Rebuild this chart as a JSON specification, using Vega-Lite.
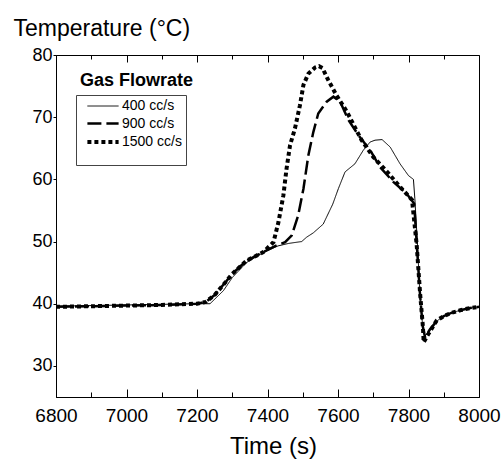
{
  "$schema": "https://vega.github.io/schema/vega-lite/v6.json",
  "autosize": "none",
  "width": 423,
  "height": 342,
  "padding": {"left": 56, "top": 55, "right": 23, "bottom": 62},
  "background": "white",
  "config": {
    "view": {"stroke": "black", "strokeWidth": 1},
    "font": "Liberation Sans"
  },
  "title": {"text": "Gas Flowrate", "anchor": "start", "frame": "group", "fontSize": 18, "fontWeight": "bold", "font": "Liberation Sans", "color": "black", "dx": 24, "dy": 73, "offset": 0},
  "data": {"values": [
    {"t": 6800, "temp": 39.6, "flow": "400 cc/s"},
    {"t": 6900, "temp": 39.7, "flow": "400 cc/s"},
    {"t": 7000, "temp": 39.8, "flow": "400 cc/s"},
    {"t": 7100, "temp": 39.9, "flow": "400 cc/s"},
    {"t": 7200, "temp": 40.0, "flow": "400 cc/s"},
    {"t": 7237, "temp": 40.0, "flow": "400 cc/s"},
    {"t": 7275, "temp": 42.1, "flow": "400 cc/s"},
    {"t": 7300, "temp": 44.2, "flow": "400 cc/s"},
    {"t": 7340, "temp": 46.6, "flow": "400 cc/s"},
    {"t": 7390, "temp": 48.3, "flow": "400 cc/s"},
    {"t": 7430, "temp": 49.3, "flow": "400 cc/s"},
    {"t": 7460, "temp": 49.7, "flow": "400 cc/s"},
    {"t": 7497, "temp": 50.0, "flow": "400 cc/s"},
    {"t": 7511, "temp": 50.7, "flow": "400 cc/s"},
    {"t": 7530, "temp": 51.4, "flow": "400 cc/s"},
    {"t": 7558, "temp": 52.8, "flow": "400 cc/s"},
    {"t": 7585, "temp": 56.0, "flow": "400 cc/s"},
    {"t": 7601, "temp": 58.5, "flow": "400 cc/s"},
    {"t": 7620, "temp": 61.2, "flow": "400 cc/s"},
    {"t": 7648, "temp": 62.5, "flow": "400 cc/s"},
    {"t": 7672, "temp": 64.7, "flow": "400 cc/s"},
    {"t": 7691, "temp": 66.0, "flow": "400 cc/s"},
    {"t": 7705, "temp": 66.3, "flow": "400 cc/s"},
    {"t": 7725, "temp": 66.4, "flow": "400 cc/s"},
    {"t": 7748, "temp": 65.2, "flow": "400 cc/s"},
    {"t": 7776, "temp": 62.5, "flow": "400 cc/s"},
    {"t": 7800, "temp": 60.6, "flow": "400 cc/s"},
    {"t": 7814, "temp": 60.0, "flow": "400 cc/s"},
    {"t": 7818, "temp": 56.9, "flow": "400 cc/s"},
    {"t": 7825, "temp": 50.0, "flow": "400 cc/s"},
    {"t": 7832, "temp": 42.0, "flow": "400 cc/s"},
    {"t": 7840, "temp": 36.5, "flow": "400 cc/s"},
    {"t": 7847, "temp": 34.8, "flow": "400 cc/s"},
    {"t": 7860, "temp": 35.8, "flow": "400 cc/s"},
    {"t": 7880, "temp": 37.2, "flow": "400 cc/s"},
    {"t": 7900, "temp": 38.0, "flow": "400 cc/s"},
    {"t": 7920, "temp": 38.5, "flow": "400 cc/s"},
    {"t": 7950, "temp": 39.0, "flow": "400 cc/s"},
    {"t": 7975, "temp": 39.3, "flow": "400 cc/s"},
    {"t": 8000, "temp": 39.5, "flow": "400 cc/s"},

    {"t": 6800, "temp": 39.5, "flow": "900 cc/s"},
    {"t": 6900, "temp": 39.6, "flow": "900 cc/s"},
    {"t": 7000, "temp": 39.7, "flow": "900 cc/s"},
    {"t": 7100, "temp": 39.8, "flow": "900 cc/s"},
    {"t": 7200, "temp": 40.0, "flow": "900 cc/s"},
    {"t": 7225, "temp": 40.3, "flow": "900 cc/s"},
    {"t": 7250, "temp": 41.4, "flow": "900 cc/s"},
    {"t": 7280, "temp": 43.4, "flow": "900 cc/s"},
    {"t": 7300, "temp": 44.8, "flow": "900 cc/s"},
    {"t": 7340, "temp": 46.9, "flow": "900 cc/s"},
    {"t": 7388, "temp": 48.3, "flow": "900 cc/s"},
    {"t": 7426, "temp": 49.4, "flow": "900 cc/s"},
    {"t": 7450, "temp": 49.9, "flow": "900 cc/s"},
    {"t": 7469, "temp": 51.0, "flow": "900 cc/s"},
    {"t": 7487, "temp": 54.2, "flow": "900 cc/s"},
    {"t": 7502, "temp": 58.5, "flow": "900 cc/s"},
    {"t": 7516, "temp": 63.9, "flow": "900 cc/s"},
    {"t": 7530, "temp": 67.6, "flow": "900 cc/s"},
    {"t": 7544, "temp": 70.6, "flow": "900 cc/s"},
    {"t": 7568, "temp": 72.5, "flow": "900 cc/s"},
    {"t": 7587, "temp": 73.3, "flow": "900 cc/s"},
    {"t": 7606, "temp": 72.5, "flow": "900 cc/s"},
    {"t": 7629, "temp": 69.6, "flow": "900 cc/s"},
    {"t": 7658, "temp": 67.1, "flow": "900 cc/s"},
    {"t": 7691, "temp": 64.7, "flow": "900 cc/s"},
    {"t": 7719, "temp": 62.0, "flow": "900 cc/s"},
    {"t": 7757, "temp": 59.6, "flow": "900 cc/s"},
    {"t": 7795, "temp": 57.7, "flow": "900 cc/s"},
    {"t": 7816, "temp": 56.1, "flow": "900 cc/s"},
    {"t": 7823, "temp": 50.0, "flow": "900 cc/s"},
    {"t": 7832, "temp": 42.0, "flow": "900 cc/s"},
    {"t": 7840, "temp": 36.5, "flow": "900 cc/s"},
    {"t": 7847, "temp": 34.6, "flow": "900 cc/s"},
    {"t": 7860, "temp": 35.8, "flow": "900 cc/s"},
    {"t": 7880, "temp": 37.2, "flow": "900 cc/s"},
    {"t": 7900, "temp": 38.0, "flow": "900 cc/s"},
    {"t": 7920, "temp": 38.5, "flow": "900 cc/s"},
    {"t": 7950, "temp": 39.0, "flow": "900 cc/s"},
    {"t": 7975, "temp": 39.3, "flow": "900 cc/s"},
    {"t": 8000, "temp": 39.5, "flow": "900 cc/s"},

    {"t": 6800, "temp": 39.5, "flow": "1500 cc/s"},
    {"t": 6900, "temp": 39.6, "flow": "1500 cc/s"},
    {"t": 7000, "temp": 39.7, "flow": "1500 cc/s"},
    {"t": 7100, "temp": 39.8, "flow": "1500 cc/s"},
    {"t": 7200, "temp": 40.0, "flow": "1500 cc/s"},
    {"t": 7225, "temp": 40.3, "flow": "1500 cc/s"},
    {"t": 7250, "temp": 41.4, "flow": "1500 cc/s"},
    {"t": 7280, "temp": 43.4, "flow": "1500 cc/s"},
    {"t": 7300, "temp": 44.8, "flow": "1500 cc/s"},
    {"t": 7340, "temp": 46.9, "flow": "1500 cc/s"},
    {"t": 7388, "temp": 48.3, "flow": "1500 cc/s"},
    {"t": 7417, "temp": 49.9, "flow": "1500 cc/s"},
    {"t": 7431, "temp": 53.1, "flow": "1500 cc/s"},
    {"t": 7445, "temp": 57.4, "flow": "1500 cc/s"},
    {"t": 7454, "temp": 61.7, "flow": "1500 cc/s"},
    {"t": 7464, "temp": 65.5, "flow": "1500 cc/s"},
    {"t": 7478, "temp": 68.2, "flow": "1500 cc/s"},
    {"t": 7492, "temp": 71.9, "flow": "1500 cc/s"},
    {"t": 7502, "temp": 75.2, "flow": "1500 cc/s"},
    {"t": 7516, "temp": 77.0, "flow": "1500 cc/s"},
    {"t": 7535, "temp": 78.0, "flow": "1500 cc/s"},
    {"t": 7546, "temp": 78.2, "flow": "1500 cc/s"},
    {"t": 7556, "temp": 77.9, "flow": "1500 cc/s"},
    {"t": 7572, "temp": 76.0, "flow": "1500 cc/s"},
    {"t": 7596, "temp": 73.5, "flow": "1500 cc/s"},
    {"t": 7625, "temp": 70.9, "flow": "1500 cc/s"},
    {"t": 7667, "temp": 66.3, "flow": "1500 cc/s"},
    {"t": 7700, "temp": 63.6, "flow": "1500 cc/s"},
    {"t": 7738, "temp": 61.3, "flow": "1500 cc/s"},
    {"t": 7776, "temp": 58.8, "flow": "1500 cc/s"},
    {"t": 7810, "temp": 56.7, "flow": "1500 cc/s"},
    {"t": 7823, "temp": 49.6, "flow": "1500 cc/s"},
    {"t": 7833, "temp": 41.6, "flow": "1500 cc/s"},
    {"t": 7841, "temp": 36.2, "flow": "1500 cc/s"},
    {"t": 7843, "temp": 33.8, "flow": "1500 cc/s"},
    {"t": 7856, "temp": 35.1, "flow": "1500 cc/s"},
    {"t": 7880, "temp": 37.3, "flow": "1500 cc/s"},
    {"t": 7900, "temp": 38.0, "flow": "1500 cc/s"},
    {"t": 7920, "temp": 38.5, "flow": "1500 cc/s"},
    {"t": 7950, "temp": 39.0, "flow": "1500 cc/s"},
    {"t": 7975, "temp": 39.3, "flow": "1500 cc/s"},
    {"t": 8000, "temp": 39.5, "flow": "1500 cc/s"}
  ]},
  "layer": [
    {
      "mark": {"type": "line", "color": "black", "strokeCap": "butt", "strokeJoin": "miter"},
      "encoding": {
        "x": {"field": "t", "type": "quantitative",
          "scale": {"domain": [6800, 8000], "nice": false, "zero": false},
          "axis": {"orient": "bottom", "title": "Time (s)", "titleFontSize": 24, "titleFont": "Liberation Sans", "titleFontWeight": "normal", "titleColor": "black", "titlePadding": 6, "titleX": 217,
            "values": [6800, 6900, 7000, 7100, 7200, 7300, 7400, 7500, 7600, 7700, 7800, 7900, 8000],
            "format": "d",
            "labelExpr": "datum.value % 200 === 0 ? datum.label : ''",
            "labelFont": "Liberation Sans", "labelFontSize": 19, "labelColor": "black", "labelPadding": 17, "labelFlush": false, "labelOverlap": false,
            "grid": false, "domainColor": "black", "tickColor": "black", "tickWidth": 1,
            "tickSize": {"condition": {"test": "datum.value % 200 === 0", "value": -8}, "value": -5}}},
        "y": {"field": "temp", "type": "quantitative",
          "scale": {"domain": [25, 80], "nice": false, "zero": false},
          "axis": {"orient": "left", "title": "Temperature (°C)", "titleAngle": 0, "titleAlign": "left", "titleBaseline": "alphabetic",
            "titleX": -43, "titleY": -20, "titleFontSize": 23, "titleFont": "Liberation Sans", "titleFontWeight": "normal", "titleColor": "black",
            "values": [30, 35, 40, 45, 50, 55, 60, 65, 70, 75, 80],
            "labelExpr": "datum.value % 10 === 0 ? datum.label : ''",
            "labelFont": "Liberation Sans", "labelFontSize": 18, "labelColor": "black", "labelPadding": 1, "labelOverlap": false,
            "grid": false, "domainColor": "black", "tickColor": "black", "tickWidth": 1,
            "tickSize": {"condition": {"test": "datum.value % 10 === 0", "value": 3}, "value": -3}}},
        "detail": {"field": "flow"},
        "strokeDash": {"field": "flow", "type": "nominal",
          "scale": {"domain": ["400 cc/s", "900 cc/s", "1500 cc/s"], "range": [[1, 0], [14, 5], [4, 3]]},
          "legend": {"orient": "none", "legendX": 20, "legendY": 40, "title": " ", "titleOrient": "bottom", "titleFontSize": 8, "titlePadding": 3,
            "strokeColor": "#444", "fillColor": "white", "padding": 4,
            "symbolType": "M-2.6,0H2.6", "symbolSize": 144, "symbolStrokeColor": "black", "symbolOffset": 15,
            "labelFontSize": 14, "labelFont": "Liberation Sans", "labelColor": "black", "labelOffset": 11, "rowPadding": 3}},
        "strokeWidth": {"field": "flow", "type": "nominal",
          "scale": {"domain": ["400 cc/s", "900 cc/s", "1500 cc/s"], "range": [1, 4, 4.5]},
          "legend": null}
      }
    },
    {
      "mark": {"type": "line", "opacity": 0},
      "encoding": {
        "x": {"field": "t", "type": "quantitative",
          "axis": {"orient": "top", "title": null, "labels": false, "domain": false, "grid": false,
            "values": [6800, 6900, 7000, 7100, 7200, 7300, 7400, 7500, 7600, 7700, 7800, 7900, 8000],
            "tickColor": "black", "tickWidth": 1,
            "tickSize": {"condition": {"test": "datum.value % 200 === 0", "value": -7}, "value": -4}}},
        "y": {"field": "temp", "type": "quantitative"},
        "detail": {"field": "flow"}
      }
    }
  ],
  "resolve": {"axis": {"x": "independent"}}
}
